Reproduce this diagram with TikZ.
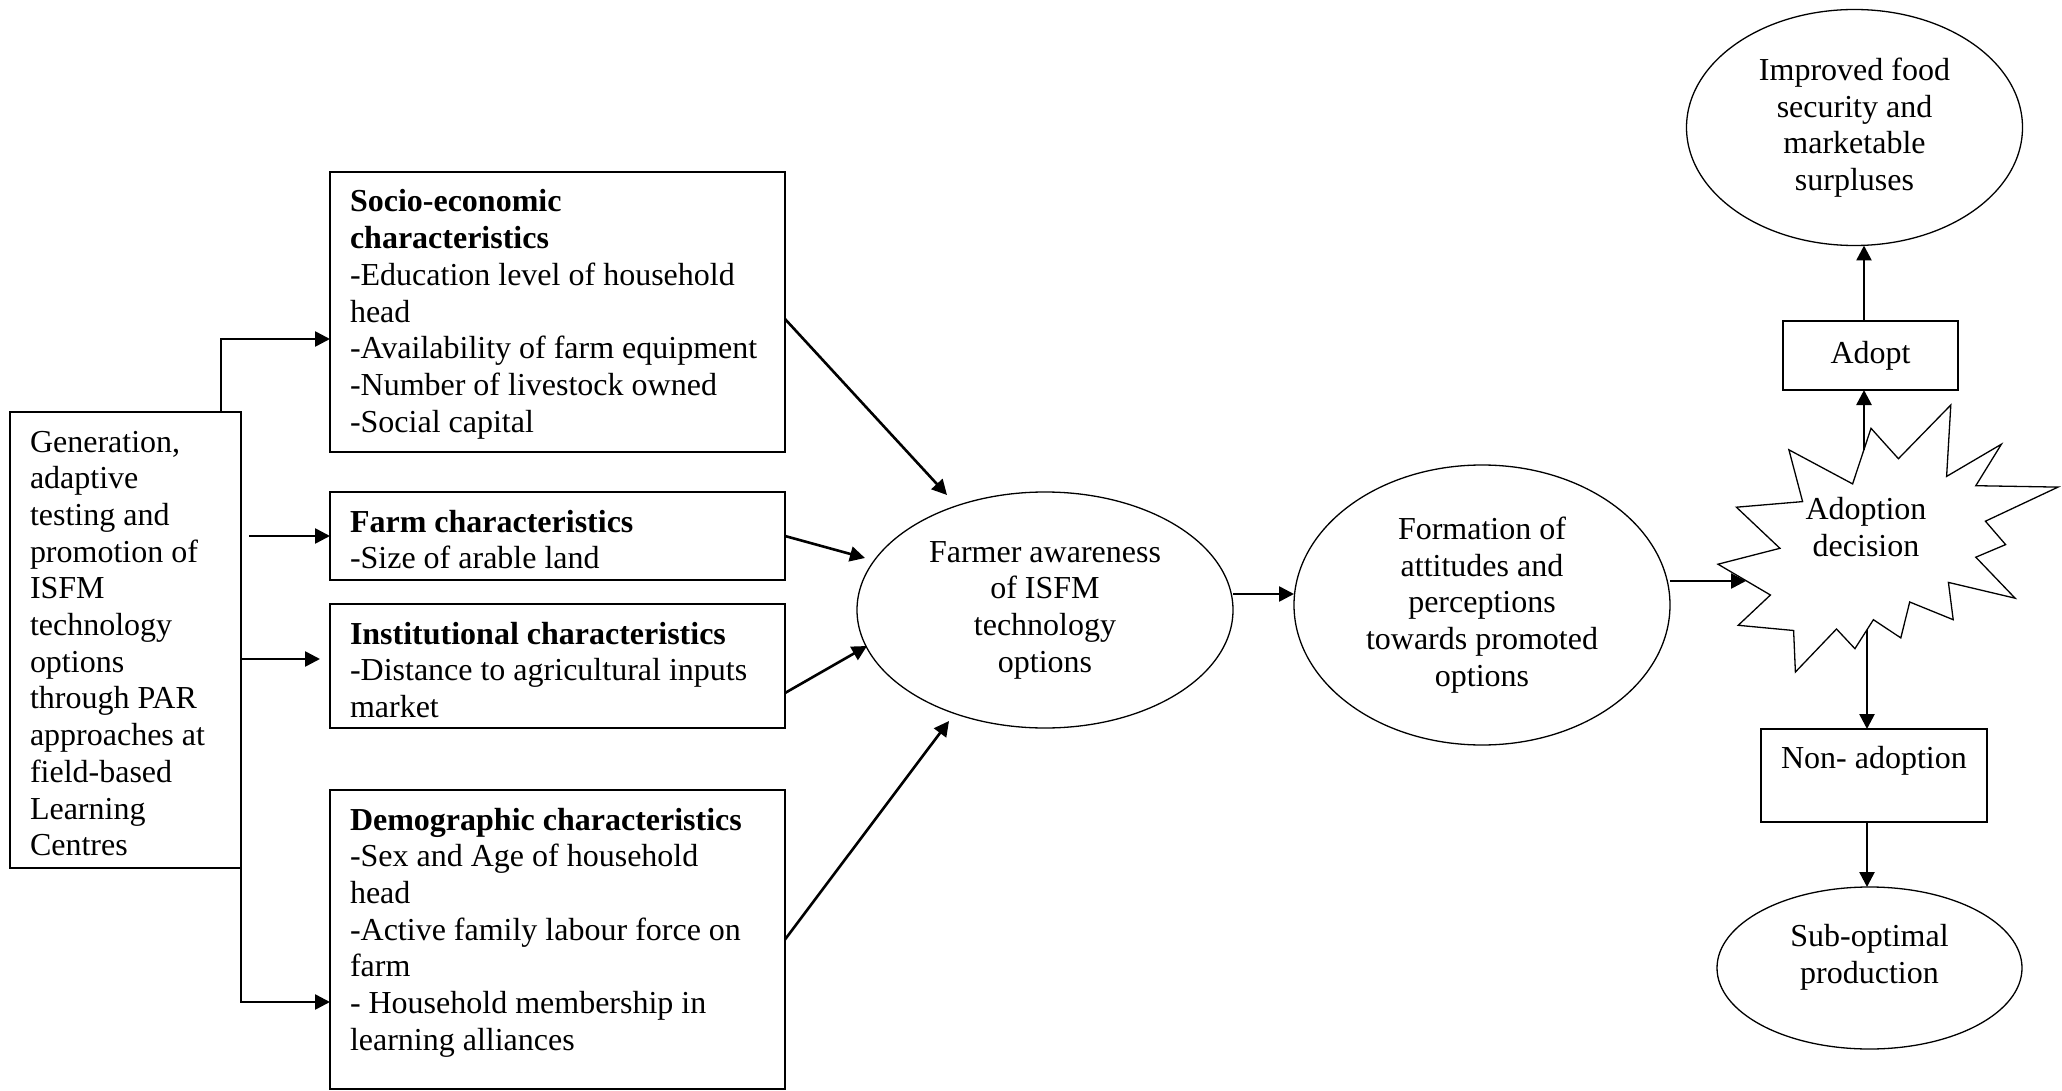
\documentclass[tikz,border=0pt]{standalone}
\usepackage{fontspec}
\setmainfont{Liberation Serif}
\usetikzlibrary{shapes.geometric, arrows.meta}
\newcommand{\lefttext}[3]{\parbox[c][#2][t]{#1}{\raggedright\leftskip=10pt\relax\rule{0pt}{20pt}#3}}
\newcommand{\centtext}[3]{\parbox[c][#2][t]{#1}{\centering\rule{0pt}{19.5pt}#3}}
\begin{document}
\begin{tikzpicture}[x=0.5pt,y=-0.5pt,
  every node/.style={font=\fontsize{16pt}{18.35pt}\selectfont},
  box/.style={draw, line width=0.85pt, inner sep=0pt, outer sep=0pt, anchor=north west},
  oval/.style={draw, ellipse, line width=0.65pt, inner sep=0pt, outer sep=0pt, align=center},
  arr/.style={line width=1.3pt, -{Triangle[length=7.5pt,width=7.5pt]}}]
\fill[white] (0,0) rectangle (2062,1091);
\useasboundingbox (0,0) rectangle (2062,1091);

% left column
\node[box] (gen) at (10,412) {\lefttext{115.5pt}{228pt}{Generation,\\adaptive\\testing and\\promotion of\\ISFM\\technology\\options\\through PAR\\approaches at\\field-based\\Learning\\Centres}};

\node[box] (socio) at (330,172) {\lefttext{227.5pt}{140pt}{\textbf{Socio-economic}\\\textbf{characteristics}\\-Education level of household\\head\\-Availability of farm equipment\\-Number of livestock owned\\-Social capital}};
\node[box] (farm) at (330,492) {\lefttext{227.5pt}{44pt}{\textbf{Farm characteristics}\\-Size of arable land}};
\node[box] (inst) at (330,604) {\lefttext{227.5pt}{62pt}{\textbf{Institutional characteristics}\\-Distance to agricultural inputs\\market}};
\node[box] (demo) at (330,790) {\lefttext{227.5pt}{149.5pt}{\textbf{Demographic characteristics}\\-Sex and Age of household\\head\\-Active family labour force on\\farm\\- Household membership in\\learning alliances}};

% ellipses
\node[oval, minimum width=188pt, minimum height=118pt] (aw) at (1045,610) {Farmer awareness\\of ISFM\\technology\\options};
\node[oval, minimum width=188pt, minimum height=140pt] (form) at (1482,605) {Formation of\\attitudes and\\perceptions\\towards promoted\\options};
\node[oval, minimum width=168pt, minimum height=118pt] (imp) at (1854.5,127.5) {Improved food\\security and\\marketable\\surpluses};
\node[oval, minimum width=152.5pt, minimum height=81pt] (sub) at (1869.5,968) {Sub-optimal\\production\rule[-14pt]{0pt}{0pt}};

% right boxes
\node[box, anchor=center, minimum width=87.5pt, minimum height=34.5pt] (adopt) at (1870.5,355.5) {Adopt};
\node[box] (non) at (1761,729) {\centtext{113pt}{46.5pt}{Non- adoption}};

% explosion shape
\draw[line width=0.65pt, fill=white] (1898.4,458.7) -- (1950.8,405) -- (1946.6,476.4) -- (2001.4,444.2) -- (1975.8,485.7) -- (2058,487.1) -- (1985.4,521.2) -- (2005.6,544.6) -- (1975.8,557.2) -- (2015.1,598.2) -- (1948.4,582.4) -- (1953.2,619.7) -- (1909.7,602.0) -- (1900.8,637.9) -- (1873.4,619.7) -- (1854.9,648.7) -- (1836.5,629.0) -- (1795.4,672) -- (1793.6,630.5) -- (1738.2,625.3) -- (1770.4,595.0) -- (1718,564.2) -- (1779.9,548.3) -- (1736.4,507.2) -- (1802.6,501.6) -- (1788.9,449.8) -- (1852.6,483.9) -- (1871.0,428.3) -- cycle;
\node[align=center] (dec) at (1866,527) {Adoption\\decision};
\coordinate (decL) at (1746,581);
\coordinate (decT) at (1864,450);
\coordinate (decB) at (1867,630);

% helper points
\coordinate (c1) at (221,339);
\coordinate (c2) at (249,0);
\coordinate (c3) at (320,659);
\coordinate (c4) at (0,1002);
\coordinate (c5) at (0,594);
\coordinate (t1) at (947,495);
\coordinate (t2) at (865,558);
\coordinate (t3) at (867,646);
\coordinate (t4) at (949,721);

% connectors
\draw[arr] (gen.north -| c1) |- (socio.west |- c1);
\draw[arr] (c2 |- farm.west) -- (farm.west);
\draw[arr] (gen.east |- c3) -- (c3);
\draw[arr] (gen.south east) |- (demo.west |- c4);

\draw[arr] ([yshift=-3.5pt]socio.east) -- (t1);
\draw[arr] (farm.east) -- (t2);
\draw[arr] ([yshift=-13.5pt]inst.east) -- (t3);
\draw[arr] (demo.east) -- (t4);

\draw[arr] (aw.east |- c5) -- (form.west |- c5);
\draw[arr] (form.east |- decL) -- (decL);
\draw[arr] (decT) -- (adopt.south -| decT);
\draw[arr] (adopt.north -| decT) -- (imp.south -| decT);
\draw[arr] (decB) -- (non.north -| decB);
\draw[arr] (non.south -| decB) -- (sub.north -| decB);
\end{tikzpicture}
\end{document}
